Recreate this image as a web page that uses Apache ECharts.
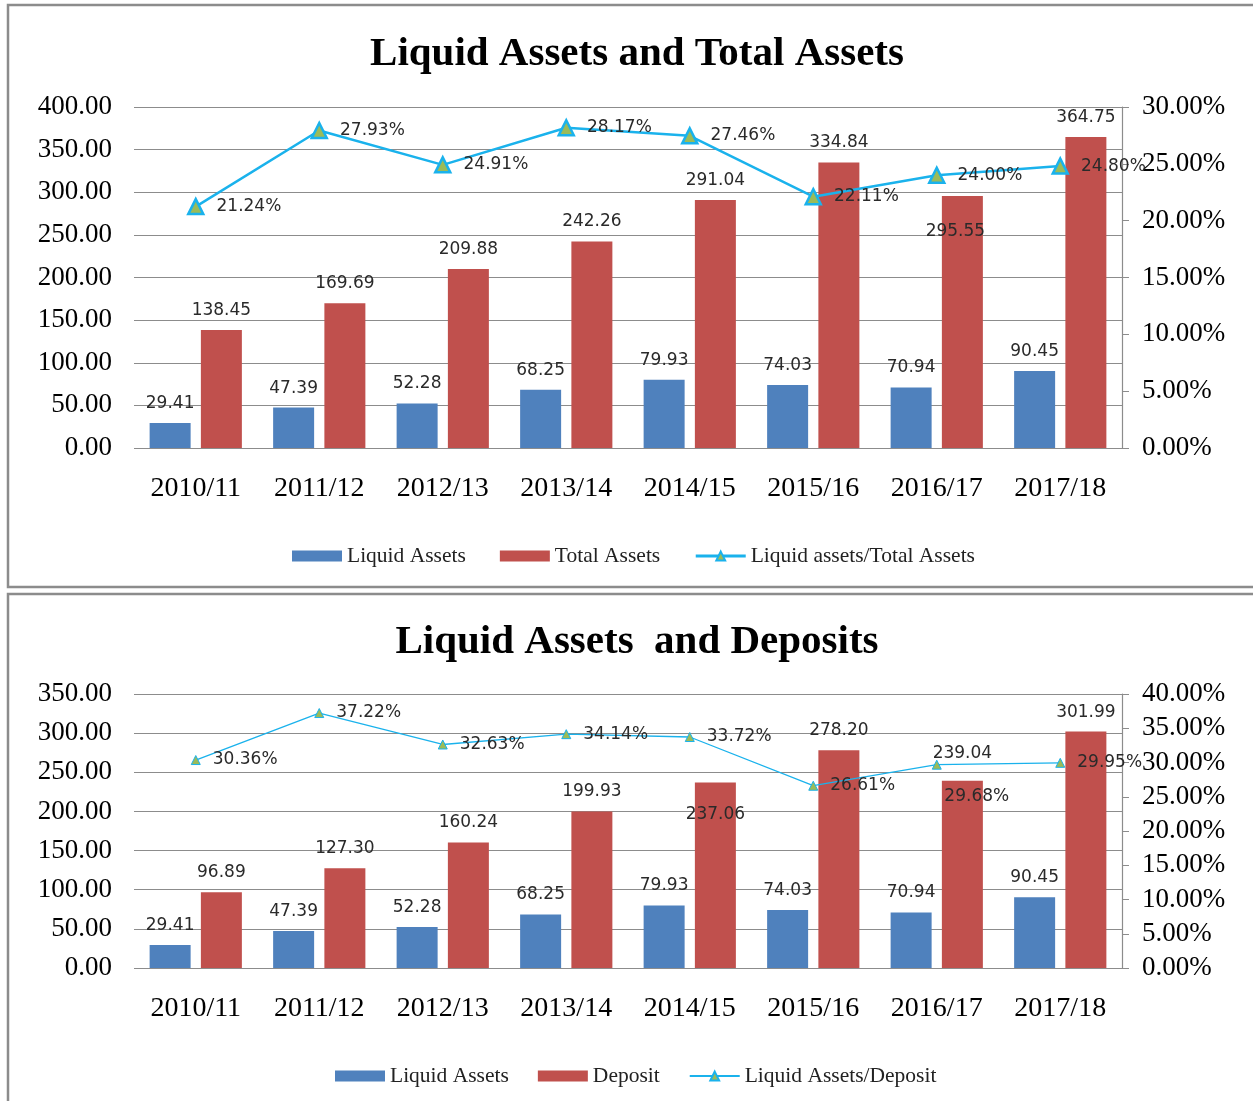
<!DOCTYPE html>
<html>
<head>
<meta charset="utf-8">
<title>Liquid Assets</title>
<script src="https://cdn.jsdelivr.net/npm/echarts@6/dist/echarts.min.js"></script>
<style>
  html, body { margin: 0; padding: 0; background: #fff; }
  #main { width: 1253px; height: 1101px; }
</style>
</head>
<body>
<div id="main"></div>
<script>
    // 年度（两张图共用）
    var years = ['2010/11', '2011/12', '2012/13', '2013/14', '2014/15', '2015/16', '2016/17', '2017/18'];

    // 图一：流动资产 / 总资产
    var liquidAssets = [29.41, 47.39, 52.28, 68.25, 79.93, 74.03, 70.94, 90.45];
    var totalAssets = [138.45, 169.69, 209.88, 242.26, 291.04, 334.84, 295.55, 364.75];
    var liquidToTotal = [21.24, 27.93, 24.91, 28.17, 27.46, 22.11, 24.00, 24.80];

    // 图二：流动资产 / 存款
    var deposits = [96.89, 127.30, 160.24, 199.93, 237.06, 278.20, 239.04, 301.99];
    var liquidToDeposit = [30.36, 37.22, 32.63, 34.14, 33.72, 26.61, 29.68, 29.95];

    var BLUE = '#4F81BD';
    var RED = '#C0504D';
    var CYAN = '#1AB2EC';
    var GREEN = '#9BBB59';
    var GRID_LINE = '#8c8c8c';
    var serif = 'Liberation Serif';
    var labelFont = 'DejaVu Sans';

    var chart = echarts.init(document.getElementById('main'));

    // 柱子标签
    function barLabel() {
        return {
            show: true,
            position: 'top',
            distance: 11,
            fontFamily: labelFont,
            fontSize: 17,
            color: '#2a2a2a',
            formatter: function (p) { return p.value.toFixed(2); }
        };
    }
    function lineLabel() {
        return {
            show: true,
            position: 'right',
            distance: 12,
            fontFamily: labelFont,
            fontSize: 17,
            color: '#2a2a2a',
            formatter: function (p) { return p.value.toFixed(2) + '%'; }
        };
    }

    // 个别标签位置挪动（原图里被手动挪过）
    function withLabelOffset(values, idx, label) {
        return values.map(function (v, i) {
            if (i === idx) {
                return { value: v, label: label };
            }
            return v;
        });
    }

    function leftAxis(gridIndex, max) {
        return {
            type: 'value',
            gridIndex: gridIndex,
            min: 0,
            max: max,
            interval: 50,
            axisLine: { show: false },
            axisTick: { show: false },
            axisLabel: {
                margin: 22,
                fontFamily: serif,
                fontSize: 27,
                color: '#000',
                formatter: function (v) { return v.toFixed(2); }
            },
            splitLine: { lineStyle: { color: GRID_LINE, width: 1.2 } }
        };
    }
    function rightAxis(gridIndex, max) {
        return {
            type: 'value',
            gridIndex: gridIndex,
            position: 'right',
            min: 0,
            max: max,
            interval: 5,
            axisLine: { show: true, lineStyle: { color: GRID_LINE, width: 1.2 } },
            axisTick: { show: true, length: 7, lineStyle: { color: GRID_LINE } },
            axisLabel: {
                margin: 20,
                fontFamily: serif,
                fontSize: 27,
                color: '#000',
                formatter: function (v) { return v.toFixed(2) + '%'; }
            },
            splitLine: { show: false }
        };
    }
    function catAxis(gridIndex) {
        return {
            type: 'category',
            gridIndex: gridIndex,
            data: years,
            axisLine: { show: false },
            axisTick: { show: false },
            axisLabel: {
                margin: 27,
                fontFamily: serif,
                fontSize: 28,
                color: '#000'
            }
        };
    }

    var option = {
        animation: false,
        backgroundColor: '#fff',
        graphic: [
            // 两个外框
            { type: 'rect', shape: { x: 8, y: 5, width: 1260, height: 582 },
              style: { fill: 'none', stroke: '#8c8c8c', lineWidth: 2.5 }, silent: true },
            { type: 'rect', shape: { x: 8, y: 594, width: 1260, height: 520 },
              style: { fill: 'none', stroke: '#8c8c8c', lineWidth: 2.5 }, silent: true }
        ],
        title: [{
            text: 'Liquid Assets and Total Assets',
            left: 632, textAlign: 'center',
            top: 29,
            textStyle: { fontFamily: serif, fontWeight: 'bold', fontSize: 41, color: '#000' }
        }, {
            text: 'Liquid Assets  and Deposits',
            left: 632, textAlign: 'center',
            top: 617,
            textStyle: { fontFamily: serif, fontWeight: 'bold', fontSize: 41, color: '#000' }
        }],
        legend: [{
            data: [
                { name: 'Liquid Assets', icon: 'rect' },
                { name: 'Total Assets', icon: 'rect' },
                { name: 'Liquid assets/Total Assets', lineStyle: { width: 3 } }
            ],
            left: 287, top: 540,
            itemWidth: 50, itemHeight: 11, itemGap: 34,
            textStyle: { fontFamily: serif, fontSize: 21.5, color: '#222' }
        }, {
            data: [
                { name: 'Liquid Assets', icon: 'rect' },
                { name: 'Deposit', icon: 'rect' },
                'Liquid Assets/Deposit'
            ],
            left: 330, top: 1060,
            itemWidth: 50, itemHeight: 11, itemGap: 29,
            textStyle: { fontFamily: serif, fontSize: 21.5, color: '#222' }
        }],
        grid: [
            { left: 134, right: 131, top: 107, height: 341 },
            { left: 134, right: 131, top: 694, height: 274 }
        ],
        xAxis: [catAxis(0), catAxis(1)],
        yAxis: [leftAxis(0, 400), rightAxis(0, 30), leftAxis(1, 350), rightAxis(1, 40)],
        series: [{
            name: 'Liquid Assets',
            type: 'bar',
            xAxisIndex: 0, yAxisIndex: 0,
            data: liquidAssets,
            barWidth: 41, barGap: '25%',
            itemStyle: { color: BLUE },
            label: barLabel()
        }, {
            name: 'Total Assets',
            type: 'bar',
            xAxisIndex: 0, yAxisIndex: 0,
            data: withLabelOffset(totalAssets, 6, { position: 'top', offset: [-7, 55] }),
            barWidth: 41, barGap: '25%',
            itemStyle: { color: RED },
            label: barLabel()
        }, {
            name: 'Liquid assets/Total Assets',
            type: 'line',
            xAxisIndex: 0, yAxisIndex: 1,
            data: liquidToTotal,
            symbol: 'triangle',
            symbolSize: 15,
            lineStyle: { color: CYAN, width: 2.5 },
            itemStyle: { color: GREEN, borderColor: CYAN, borderWidth: 2.5 },
            label: lineLabel(),
            z: 5
        }, {
            name: 'Liquid Assets',
            type: 'bar',
            xAxisIndex: 1, yAxisIndex: 2,
            data: liquidAssets,
            barWidth: 41, barGap: '25%',
            itemStyle: { color: BLUE },
            label: barLabel()
        }, {
            name: 'Deposit',
            type: 'bar',
            xAxisIndex: 1, yAxisIndex: 2,
            data: withLabelOffset(
                withLabelOffset(deposits, 4, { position: 'top', offset: [0, 52] }),
                6, { position: 'top', offset: [0, -8] }),
            barWidth: 41, barGap: '25%',
            itemStyle: { color: RED },
            label: barLabel()
        }, {
            name: 'Liquid Assets/Deposit',
            type: 'line',
            xAxisIndex: 1, yAxisIndex: 3,
            data: withLabelOffset(liquidToDeposit, 6, { position: 'bottom', offset: [40, 6] }),
            symbol: 'triangle',
            symbolSize: 9,
            lineStyle: { color: CYAN, width: 1.3 },
            itemStyle: { color: GREEN, borderColor: CYAN, borderWidth: 1 },
            label: lineLabel(),
            z: 5
        }]
    };

    chart.setOption(option);
</script>
</body>
</html>
